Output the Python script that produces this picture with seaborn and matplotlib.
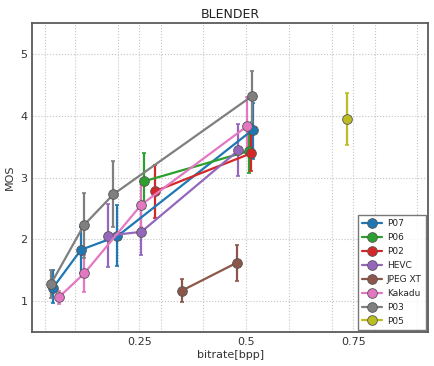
import matplotlib
matplotlib.use("Agg")
import matplotlib.pyplot as plt
import seaborn as sns
import pandas as pd
import numpy as np

codecs = ["P07", "P06", "P02", "HEVC", "JPEG XT", "Kakadu", "P03", "P05"]
colors = ["#1f77b4", "#2ca02c", "#d62728", "#9467bd", "#8c564b", "#e377c2", "#7f7f7f", "#bcbd22"]

bitrate = {
    "P07": [0.048, 0.114, 0.199, 0.515],
    "P06": [0.262, 0.507],
    "P02": [0.288, 0.511],
    "HEVC": [0.176, 0.255, 0.482],
    "JPEG XT": [0.350, 0.478],
    "Kakadu": [0.062, 0.122, 0.255, 0.502],
    "P03": [0.044, 0.121, 0.190, 0.514],
    "P05": [0.735],
}
mos = {
    "P07": [1.21, 1.83, 2.05, 3.77],
    "P06": [2.94, 3.43],
    "P02": [2.78, 3.39],
    "HEVC": [2.06, 2.12, 3.44],
    "JPEG XT": [1.17, 1.62],
    "Kakadu": [1.06, 1.45, 2.56, 3.83],
    "P03": [1.28, 2.23, 2.73, 4.32],
    "P05": [3.94],
}
ci_low = {
    "P07": [0.97, 1.45, 1.57, 3.30],
    "P06": [2.50, 3.08],
    "P02": [2.35, 3.10],
    "HEVC": [1.55, 1.75, 3.03],
    "JPEG XT": [0.98, 1.32],
    "Kakadu": [0.95, 1.15, 2.20, 3.40],
    "P03": [1.05, 1.70, 2.20, 3.90],
    "P05": [3.52],
}
ci_high = {
    "P07": [1.50, 2.20, 2.55, 4.20],
    "P06": [3.40, 3.70],
    "P02": [3.20, 3.70],
    "HEVC": [2.57, 2.50, 3.87],
    "JPEG XT": [1.35, 1.91],
    "Kakadu": [1.17, 1.75, 2.95, 4.30],
    "P03": [1.50, 2.75, 3.27, 4.73],
    "P05": [4.36],
}

rows = []
for c in codecs:
    for i, (x, y) in enumerate(zip(bitrate[c], mos[c])):
        rows.append({"codec": c, "bitrate": x, "MOS": y, "order": i})
df = pd.DataFrame(rows)

sns.set_style("white")
plt.rcParams["font.family"] = ["DejaVu Sans"]

fig = plt.figure(figsize=(4.35, 3.66), dpi=100)
ax = fig.add_axes([0.074, 0.093, 0.910, 0.844])

palette = dict(zip(codecs, colors))
for c in codecs:
    ax.errorbar(bitrate[c], mos[c],
                yerr=[np.array(mos[c]) - np.array(ci_low[c]), np.array(ci_high[c]) - np.array(mos[c])],
                fmt="none", ecolor=palette[c], elinewidth=1.6, capsize=1.5, capthick=1.2, zorder=2)

sns.lineplot(data=df, x="bitrate", y="MOS", hue="codec", hue_order=codecs, palette=palette,
             sort=False, estimator=None, units="codec", marker="o", markersize=7,
             markeredgecolor="#555555", markeredgewidth=0.6, linewidth=1.6, ax=ax, zorder=3)

ax.set_xlim(0, 0.925)
ax.set_ylim(0.5, 5.5)
ax.set_xticks([0.25, 0.5, 0.75])
ax.set_xticklabels(["0.25", "0.5", "0.75"])
ax.set_xticks([0.03, 0.1, 0.2, 0.3, 0.4, 0.6, 0.7, 0.8, 0.9], minor=True)
ax.set_yticks([1, 2, 3, 4, 5])
ax.tick_params(axis="both", which="both", direction="in", labelsize=8, colors="#333333",
               length=3, width=0.8)
ax.tick_params(axis="both", which="both", color="#888888")
ax.grid(True, which="both", axis="x", linestyle=":", color="#c4c4c4", linewidth=0.8)
ax.grid(True, which="major", axis="y", linestyle=":", color="#c4c4c4", linewidth=0.8)
for s in ax.spines.values():
    s.set_color("#5a5a5a")
    s.set_linewidth(1.3)

ax.set_xlabel("bitrate[bpp]", fontsize=8, color="#333333", labelpad=2)
ax.set_ylabel("MOS", fontsize=8, color="#333333", labelpad=4)
ax.set_title("BLENDER", fontsize=9, color="#222222", pad=4)

leg = ax.legend(loc="lower right", fontsize=6.5, frameon=True, fancybox=False,
                borderpad=0.45, labelspacing=0.55, handlelength=2.2, handletextpad=0.5,
                borderaxespad=0.25, title=None)
leg.get_frame().set_edgecolor("#555555")
leg.get_frame().set_linewidth(1.0)

fig.savefig("out.png", dpi=100)
